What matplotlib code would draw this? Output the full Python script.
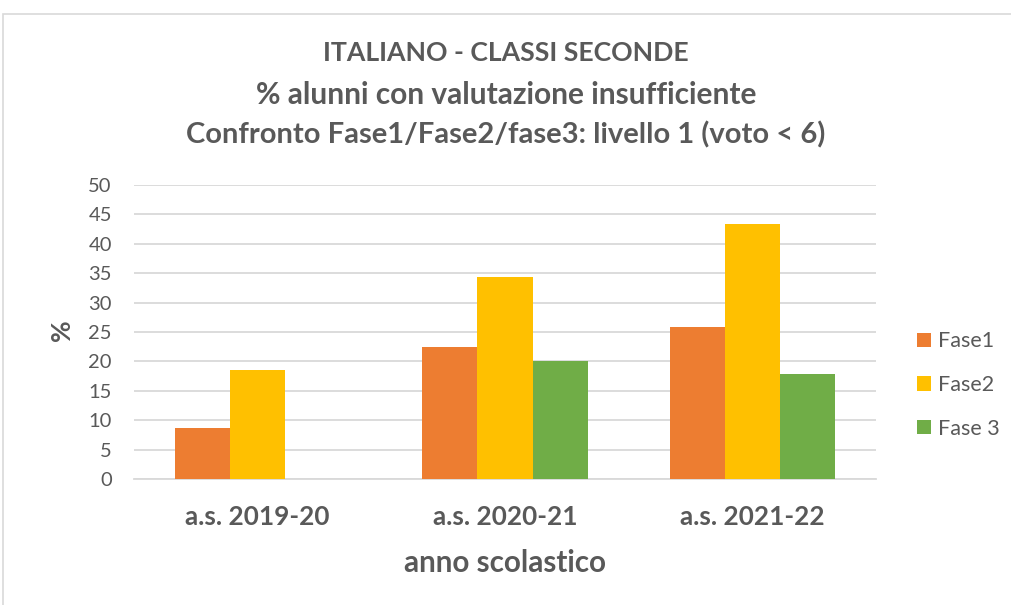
import numpy as np
import matplotlib
matplotlib.use('Agg')
import matplotlib.pyplot as plt
from matplotlib.patches import Rectangle

categories = ['a.s. 2019-20', 'a.s. 2020-21', 'a.s. 2021-22']
fase1 = [8.7, 22.5, 25.8]
fase2 = [18.6, 34.3, 43.3]
fase3 = [np.nan, 20.1, 17.8]
series_names = ['Fase1', 'Fase2', 'Fase 3']
colors = ['#ED7D31', '#FFC000', '#70AD47']

plt.rcParams['font.family'] = ['Lato', 'DejaVu Sans']
gray = '#595959'

fig = plt.figure(figsize=(10.12, 6.05), dpi=100)
# chart frame
fig.patches.append(Rectangle((3/1012, -0.1), 1.1, 1 - 14/605 + 0.1,
                             transform=fig.transFigure, fill=False,
                             edgecolor='#D9D9D9', linewidth=1.2))

ax = fig.add_axes([134/1012, 1 - 479/605, (876 - 134)/1012, (479 - 185)/605])

x = np.arange(len(categories))
w = 0.223
for i, (vals, name, c) in enumerate(zip([fase1, fase2, fase3], series_names, colors)):
    ax.bar(x + (i - 1) * w, vals, width=w, color=c, label=name, zorder=3)

ax.set_xlim(-0.5, 2.5)
ax.set_ylim(0, 50)
ax.set_yticks(range(0, 51, 5))
ax.yaxis.grid(True, color='#D9D9D9', linewidth=1.3, zorder=0)
ax.set_axisbelow(True)
for s in ['top', 'right', 'left']:
    ax.spines[s].set_visible(False)
ax.spines['bottom'].set_color('#D9D9D9')
ax.spines['bottom'].set_linewidth(1.3)
ax.tick_params(axis='y', length=0, labelsize=14.5, labelcolor=gray, pad=16)
ax.tick_params(axis='x', length=0, labelsize=18.8, labelcolor=gray, pad=19)
ax.set_xticks(x)
ax.set_xticklabels(categories, fontweight='bold')

ax.set_ylabel('%', fontsize=19, fontweight='bold', color=gray)
ax.yaxis.label.set_va('center')
ax.yaxis.set_label_coords((62 - 134) / 742, (479 - 330) / 294)
ax.set_xlabel('anno scolastico', fontsize=21.3, fontweight='bold', color=gray)
ax.xaxis.label.set_va('center')
ax.xaxis.set_label_coords(0.5, (479 - 563) / 294)

fig.text(0.5, 1 - 53/605, 'ITALIANO - CLASSI SECONDE', ha='center', va='center',
         fontsize=19.2, fontweight='bold', color=gray)
fig.text(0.5, 1 - 95/605, '% alunni con valutazione insufficiente', ha='center', va='center',
         fontsize=21.5, fontweight='bold', color=gray)
fig.text(0.5, 1 - 135/605, 'Confronto Fase1/Fase2/fase3: livello 1 (voto < 6)', ha='center', va='center',
         fontsize=21, fontweight='bold', color=gray)

leg = ax.legend(loc='center left', bbox_to_anchor=((917 - 134) / 742, (479 - 385) / 294),
                frameon=False, fontsize=15.5, handlelength=0.64, handleheight=0.64,
                labelspacing=1.1, handletextpad=0.35, borderpad=0, borderaxespad=0)
for t in leg.get_texts():
    t.set_color(gray)

fig.savefig('out.png', dpi=100)
